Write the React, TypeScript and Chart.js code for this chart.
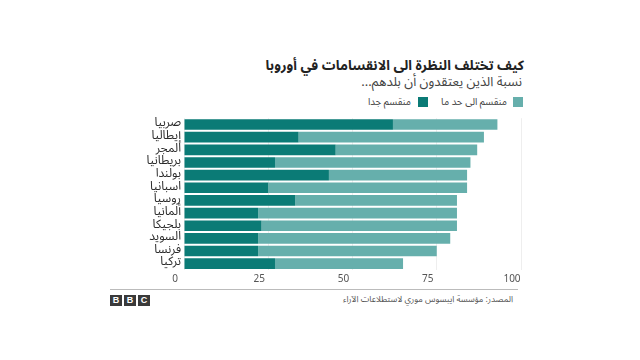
import React, { useEffect, useRef } from "react";
import { Chart, registerables } from "chart.js";

Chart.register(...registerables);

const countries = [
  "صربيا",
  "إيطاليا",
  "المجر",
  "بريطانيا",
  "بولندا",
  "اسبانيا",
  "روسيا",
  "ألمانيا",
  "بلجيكا",
  "السويد",
  "فرنسا",
  "تركيا",
];

// share saying their country is "very divided"
const veryDivided = [62, 34, 45, 27, 43, 25, 33, 22, 23, 22, 22, 27];
// share saying their country is "somewhat divided"
const somewhatDivided = [31, 55, 42, 58, 41, 59, 48, 59, 58, 57, 53, 38];

const xTicks = [0, 25, 50, 75, 100];

const seriesNames = ["منقسم جدا", "منقسم الى حد ما"];
const title = "كيف تختلف النظرة الى الانقسامات في أوروبا";
const subtitle = "نسبة الذين يعتقدون أن بلدهم...";
const source = "المصدر: مؤسسة ايبسوس موري لاستطلاعات الآراء";

const DARK = "#0b7b76";
const LIGHT = "#66afac";
const FONT = "'Noto Sans Arabic', 'Noto Sans', sans-serif";

export default function App() {
  const canvasRef = useRef<HTMLCanvasElement | null>(null);

  useEffect(() => {
    const ctx = canvasRef.current;
    if (!ctx) return;
    const chart = new Chart(ctx, {
      type: "bar",
      data: {
        labels: countries,
        datasets: [
          {
            label: seriesNames[0],
            data: veryDivided,
            backgroundColor: DARK,
            barPercentage: 0.84,
            categoryPercentage: 1,
          },
          {
            label: seriesNames[1],
            data: somewhatDivided,
            backgroundColor: LIGHT,
            barPercentage: 0.84,
            categoryPercentage: 1,
          },
        ],
      },
      options: {
        indexAxis: "y",
        animation: false,
        responsive: false,
        maintainAspectRatio: false,
        layout: { padding: { top: 3, right: 19, left: 0, bottom: 0 } },
        plugins: {
          legend: { display: false },
          tooltip: { enabled: false },
        },
        scales: {
          x: {
            stacked: true,
            min: 0,
            max: 100,
            afterBuildTicks: (scale: any) => {
              scale.ticks = xTicks.map((v) => ({ value: v }));
            },
            afterFit: (scale: any) => {
              scale.height = 18;
            },
            border: { display: false },
            grid: { color: "#eeeeee", drawTicks: false },
            ticks: {
              padding: 4,
              labelOffset: -9,
              color: "#555555",
              font: { family: FONT, size: 10 },
            },
          },
          y: {
            stacked: true,
            afterFit: (scale: any) => {
              scale.width = 84;
            },
            border: { display: false },
            grid: { display: false, drawTicks: false },
            ticks: {
              autoSkip: false,
              padding: 3,
              color: "#2a2a2a",
              font: { family: FONT, size: 12 },
            },
          },
        },
      },
    });
    return () => chart.destroy();
  }, []);

  const wrap: React.CSSProperties = {
    position: "fixed",
    left: 0,
    top: 0,
    width: 640,
    height: 360,
    background: "#ffffff",
    fontFamily: FONT,
    overflow: "hidden",
  };

  const box = (c: string, left: number): React.CSSProperties => ({
    position: "absolute",
    left,
    top: 97,
    width: 10,
    height: 10,
    background: c,
  });

  const legendText = (right: number): React.CSSProperties => ({
    position: "absolute",
    right,
    top: 94,
    fontSize: 9.8,
    color: "#444444",
    whiteSpace: "nowrap",
    lineHeight: "16px",
  });

  const bbcLetter: React.CSSProperties = {
    display: "inline-block",
    width: 12,
    height: 11,
    marginRight: 2,
    background: "#3a3a3a",
    color: "#ffffff",
    fontSize: 9,
    fontWeight: "bold",
    lineHeight: "11px",
    textAlign: "center",
    fontFamily: "'Liberation Sans', Arial, sans-serif",
  };

  return (
    <div style={wrap}>
      <div
        dir="rtl"
        style={{
          position: "absolute",
          right: 116,
          top: 54,
          fontSize: 13.6,
          fontWeight: "bold",
          color: "#222222",
          whiteSpace: "nowrap",
          lineHeight: "24px",
        }}
      >
        {title}
      </div>
      <div
        dir="rtl"
        style={{
          position: "absolute",
          right: 118,
          top: 72,
          fontSize: 13,
          color: "#444444",
          whiteSpace: "nowrap",
          lineHeight: "20px",
        }}
      >
        {subtitle}
      </div>
      <span style={box(LIGHT, 513)} />
      <span dir="rtl" style={legendText(640 - 507)}>
        {seriesNames[1]}
      </span>
      <span style={box(DARK, 418)} />
      <span dir="rtl" style={legendText(640 - 411)}>
        {seriesNames[0]}
      </span>
      <canvas
        ref={canvasRef}
        width={440}
        height={180}
        style={{ position: "absolute", left: 100, top: 108, width: 440, height: 180 }}
      />
      <div
        style={{
          position: "absolute",
          left: 110,
          top: 289,
          width: 408,
          height: 1,
          background: "#bbbbbb",
        }}
      />
      <div style={{ position: "absolute", left: 110, top: 293, lineHeight: "11px", whiteSpace: "nowrap" }}>
        <span style={bbcLetter}>B</span>
        <span style={bbcLetter}>B</span>
        <span style={bbcLetter}>C</span>
      </div>
      <div
        dir="rtl"
        style={{
          position: "absolute",
          right: 127,
          top: 291,
          fontSize: 8.6,
          color: "#555555",
          whiteSpace: "nowrap",
          lineHeight: "16px",
        }}
      >
        {source}
      </div>
    </div>
  );
}
